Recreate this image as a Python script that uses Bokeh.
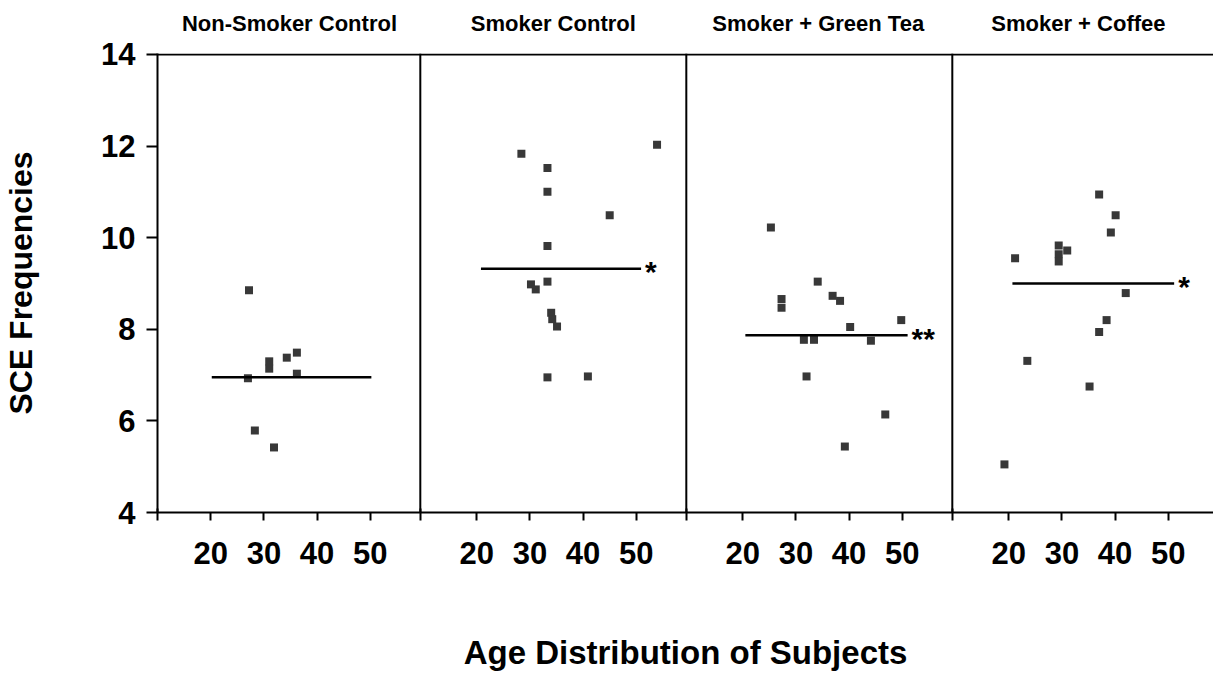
from bokeh.plotting import figure
from bokeh.models import FixedTicker, Span
from bokeh.layouts import column
from bokeh.embed import file_html
from bokeh.resources import INLINE
from bokeh.core.properties import value

# ---------------- data ----------------
panels = ["Non-Smoker Control", "Smoker Control", "Smoker + Green Tea", "Smoker + Coffee"]
age_ticks = [20, 30, 40, 50]
sce_ticks = [4, 6, 8, 10, 12, 14]

ages_nonsmoker = [27.2, 27.0, 28.3, 31.9, 31.0, 31.0, 34.3, 36.2, 36.2]
sce_nonsmoker = [8.85, 6.93, 5.79, 5.42, 7.30, 7.14, 7.38, 7.49, 7.03]

ages_smoker = [53.9, 28.4, 33.3, 33.3, 45.0, 33.3, 30.2, 31.1, 33.3, 34.0, 34.2, 35.1, 33.3, 40.9]
sce_smoker = [12.03, 11.83, 11.52, 11.00, 10.49, 9.82, 8.98, 8.87, 9.04, 8.36, 8.22, 8.06, 6.95, 6.97]

ages_greentea = [25.3, 27.3, 27.3, 34.1, 36.9, 38.3, 40.2, 49.8, 31.5, 33.4, 44.1, 32.0, 46.8, 39.2]
sce_greentea = [10.22, 8.66, 8.47, 9.04, 8.73, 8.62, 8.05, 8.20, 7.77, 7.77, 7.75, 6.97, 6.14, 5.44]

ages_coffee = [19.2, 21.2, 23.5, 29.4, 29.4, 29.4, 31.0, 37.0, 40.1, 39.2, 42.0, 38.4, 37.0, 35.2]
sce_coffee = [5.05, 9.55, 7.31, 9.83, 9.64, 9.48, 9.72, 10.94, 10.49, 10.11, 8.79, 8.20, 7.94, 6.75]

means = [6.95, 9.32, 7.87, 9.00]
mean_age_start = [20.2, 20.8, 20.5, 20.7]
mean_age_end = [50.2, 50.9, 51.0, 51.1]
significance = ["", "*", "**", "*"]

all_ages = [ages_nonsmoker, ages_smoker, ages_greentea, ages_coffee]
all_sce = [sce_nonsmoker, sce_smoker, sce_greentea, sce_coffee]

# ---------------- layout ----------------
PANEL = 50          # each panel spans ages 10..60
PX_PER_YEAR = 5.32
W = 1213
LEFT = 157
FRAME_W = W - LEFT
TOP_H = 35
FONT = "Liberation Sans"

p = figure(width=W, height=638,
           x_range=(10, 10 + FRAME_W / PX_PER_YEAR), y_range=(4, 14.02),
           output_backend="svg", toolbar_location=None,
           min_border_left=LEFT, min_border_right=0,
           min_border_top=18, min_border_bottom=160)
p.outline_line_color = None
p.xgrid.visible = False
p.ygrid.visible = False
p.background_fill_color = "white"
p.border_fill_color = "white"

# points
for k in range(4):
    xs = [a + k * PANEL for a in all_ages[k]]
    p.scatter(xs, all_sce[k], marker="square", size=8,
              fill_color="#383838", line_color=None)

# mean lines
x0 = [mean_age_start[k] + k * PANEL for k in range(4)]
x1 = [mean_age_end[k] + k * PANEL for k in range(4)]
p.segment(x0=x0, y0=means, x1=x1, y1=means, line_color="black", line_width=2.5)

# significance stars
p.text(x=x1, y=means, text=significance, x_offset=4, y_offset=3,
       text_align="left", text_baseline="alphabetic",
       text_font=value(FONT), text_font_style="bold", text_font_size="30px",
       text_color="black")

# panel borders
boundaries = [10 + PANEL * k - 0.6 for k in (1, 2, 3)]
for b in boundaries:
    p.add_layout(Span(location=b, dimension="height", line_color="black", line_width=2))
p.add_layout(Span(location=14, dimension="width", line_color="black", line_width=2))

# x axis
xt = [t + k * PANEL for k in range(4) for t in age_ticks]
p.xaxis.ticker = FixedTicker(ticks=xt, minor_ticks=[10] + boundaries)
p.xaxis.major_label_overrides = {t + k * PANEL: str(t) for k in range(4) for t in age_ticks}
p.xaxis.axis_label = "Age Distribution of Subjects"
p.xaxis.major_tick_out = 8
p.xaxis.major_tick_in = 0
p.xaxis.minor_tick_out = 8
p.xaxis.minor_tick_in = 4
p.xaxis.major_label_standoff = 21
p.xaxis.axis_label_standoff = 67

# y axis
p.yaxis.ticker = FixedTicker(ticks=sce_ticks, minor_ticks=[])
p.yaxis.axis_label = "SCE Frequencies"
p.yaxis.major_tick_out = 11
p.yaxis.major_tick_in = 0
p.yaxis.major_label_standoff = 11
p.yaxis.axis_label_standoff = 59

for ax in (p.xaxis, p.yaxis):
    ax.axis_line_width = 2
    ax.axis_line_color = "black"
    ax.major_tick_line_width = 2
    ax.major_tick_line_color = "black"
    ax.minor_tick_line_width = 2
    ax.minor_tick_line_color = "black"
    ax.major_label_text_font = FONT
    ax.major_label_text_font_style = "bold"
    ax.major_label_text_font_size = "31px"
    ax.major_label_text_color = "black"
    ax.axis_label_text_font = FONT
    ax.axis_label_text_font_style = "bold"
    ax.axis_label_text_color = "black"
p.xaxis.axis_label_text_font_size = "33px"
p.yaxis.axis_label_text_font_size = "32px"

# panel titles (separate strip above, sharing the x range)
top = figure(width=W, height=TOP_H, x_range=p.x_range, y_range=(0, TOP_H),
             output_backend="svg", toolbar_location=None,
             x_axis_location=None, y_axis_location=None,
             min_border_left=LEFT, min_border_right=0,
             min_border_top=0, min_border_bottom=0)
top.outline_line_color = None
top.xgrid.visible = False
top.ygrid.visible = False
title_x = [34.8, 84.4, 134.2, 183.1]
top.text(x=title_x, y=[TOP_H - 22.5] * 4, text=panels,
         text_align="center", text_baseline="middle",
         text_font=value(FONT), text_font_style="bold",
         text_font_size="22px", text_color="black")

layout = column(top, p, spacing=0)
open("out.html", "w").write(file_html(layout, INLINE))
